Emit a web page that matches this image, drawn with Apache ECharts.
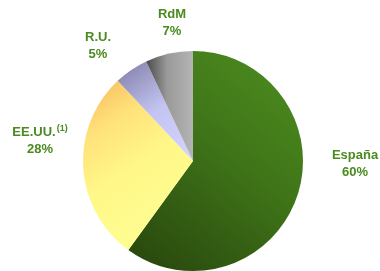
<!DOCTYPE html>
<html>
<head>
<meta charset="utf-8">
<script src="https://cdn.jsdelivr.net/npm/echarts@6/dist/echarts.min.js"></script>
<style>
  html, body { margin: 0; padding: 0; background: #fff; }
  #chart { width: 380px; height: 271px; }
</style>
</head>
<body>
<div id="chart"></div>
<script>
// 数据
const names = ['España', 'EE.UU.', 'R.U.', 'RdM'];
const values = [60, 28, 5, 7];
const notes = ['', '(1)', '', ''];

// 标签位置（像素）
const LABEL_POS = [[355, 164], [40, 141], [98, 46], [172, 23]];

const G = echarts.graphic.LinearGradient;
const FILLS = [
  new G(1, 0, 0, 1, [
    { offset: 0, color: '#4e8f20' },
    { offset: 0.45, color: '#3f7418' },
    { offset: 1, color: '#27440d' },
  ]),
  new G(0, 0, 1, 1, [
    { offset: 0, color: '#f6b85c' },
    { offset: 0.25, color: '#ffe27a' },
    { offset: 0.5, color: '#fff888' },
    { offset: 1, color: '#ffff96' },
  ]),
  new G(0, 0, 1, 1, [
    { offset: 0, color: '#7c7ca4' },
    { offset: 0.5, color: '#c4c4f2' },
    { offset: 1, color: '#d4d4ff' },
  ]),
  new G(0, 0, 1, 0, [
    { offset: 0, color: '#4a4a4a' },
    { offset: 0.45, color: '#9a9a9a' },
    { offset: 1, color: '#b4b4b4' },
  ]),
];

const chart = echarts.init(document.getElementById('chart'));
chart.setOption({
  animation: false,
  series: [{
    type: 'pie',
    center: [193, 161],
    radius: 110,
    startAngle: 90,
    clockwise: true,
    avoidLabelOverlap: false,
    itemStyle: { borderWidth: 0 },
    label: {
      show: true,
      position: 'outside',
      color: '#4a8a1e',
      fontFamily: 'Liberation Sans, Arial, sans-serif',
      fontWeight: 'bold',
      fontSize: 13,
      lineHeight: 17,
      align: 'center',
      formatter: p => {
        const n = notes[p.dataIndex];
        return p.name + (n ? '{sup|' + n + '}' : '') + '\n' + p.value + '%';
      },
      rich: {
        sup: { fontSize: 9, fontWeight: 'bold', color: '#4a8a1e', verticalAlign: 'top', padding: [0, 0, 6, 1] },
      },
    },
    labelLine: { show: false },
    labelLayout: p => ({
      x: LABEL_POS[p.dataIndex][0],
      y: LABEL_POS[p.dataIndex][1],
      align: 'center',
      verticalAlign: 'middle',
    }),
    data: names.map((n, i) => ({
      name: n,
      value: values[i],
      itemStyle: { color: FILLS[i] },
    })),
  }],
});
</script>
</body>
</html>
